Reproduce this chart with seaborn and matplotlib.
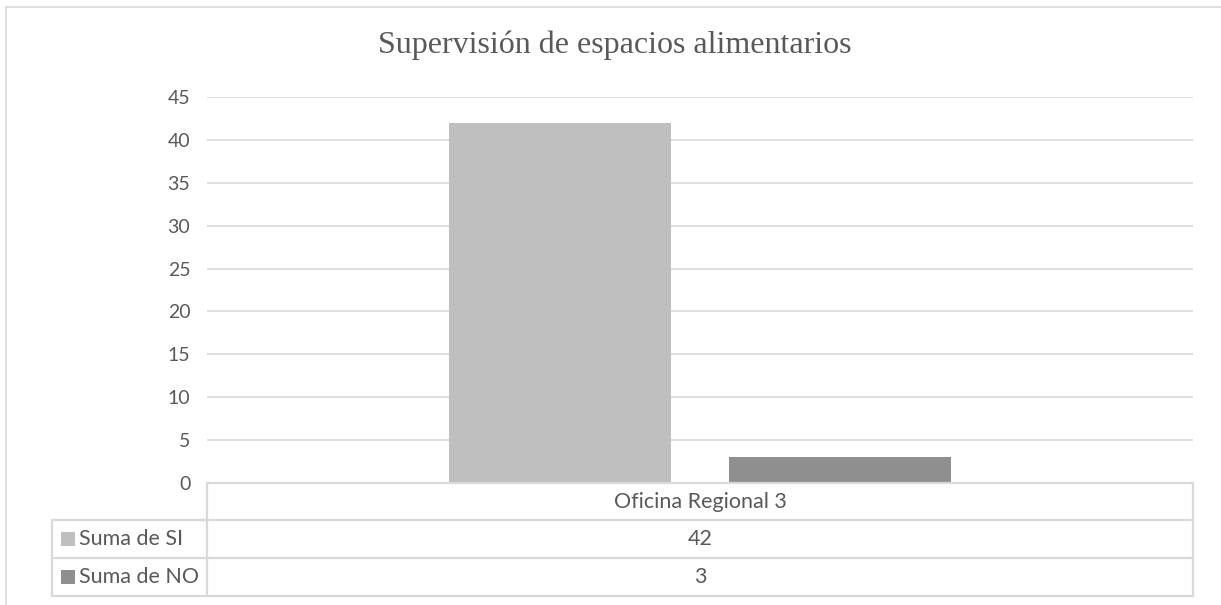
import matplotlib
matplotlib.use("Agg")
import matplotlib.pyplot as plt
import seaborn as sns
import pandas as pd
from matplotlib.lines import Line2D
from matplotlib.patches import Rectangle

# datos del gráfico
categorias = ["Oficina Regional 3"]
series = ["Suma de SI", "Suma de NO"]
valores = [42, 3]
colores = ["#BFBFBF", "#8F8F8F"]
ticks_y = [0, 5, 10, 15, 20, 25, 30, 35, 40, 45]
titulo = "Supervisión de espacios alimentarios"

df = pd.DataFrame({"oficina": categorias * len(series), "serie": series, "valor": valores})

W, H = 1221, 605
gris_texto = "#595959"
gris_linea = "#D9D9D9"

sns.set_style("white")
plt.rcParams["font.family"] = ["Lato", "DejaVu Sans"]

fig = plt.figure(figsize=(W / 100, H / 100), dpi=100)


def fx(px):
    return px / W


def fy(py):
    return 1 - py / H


# área del gráfico
ax = fig.add_axes([fx(207), fy(483), fx(1193) - fx(207), fy(97) - fy(483)])
sns.barplot(data=df, x="oficina", y="valor", hue="serie", palette=colores,
            width=0.568, gap=0.207, linewidth=0, legend=False, ax=ax)
ax.set_xlim(-0.5, 0.5)
ax.set_ylim(0, 45)
ax.set_yticks(ticks_y)
ax.set_yticklabels([str(t) for t in ticks_y], color=gris_texto, fontsize=14)
ax.tick_params(axis="y", length=0, pad=12)
ax.set_xticks([])
ax.set_xlabel("")
ax.set_ylabel("")
for s in ax.spines.values():
    s.set_visible(False)
ax.yaxis.grid(True, color=gris_linea, linewidth=1.2)
ax.set_axisbelow(True)

# título
fig.text(fx(615), fy(45), titulo, ha="center", va="center", fontsize=23,
         family="Liberation Serif", color=gris_texto)

# borde exterior (recortado a la derecha y abajo)
fig.add_artist(Line2D([fx(6), fx(6)], [fy(7), 0], color=gris_linea, lw=1.2))
fig.add_artist(Line2D([fx(6), 1], [fy(7), fy(7)], color=gris_linea, lw=1.2))

# tabla de datos
filas = [483, 520, 558, 596]
lw = 1.6
fig.add_artist(Line2D([fx(207), fx(1193)], [fy(filas[0])] * 2, color=gris_linea, lw=lw))
for yy in filas[1:]:
    fig.add_artist(Line2D([fx(52), fx(1193)], [fy(yy)] * 2, color=gris_linea, lw=lw))
fig.add_artist(Line2D([fx(207)] * 2, [fy(filas[0]), fy(filas[-1])], color=gris_linea, lw=lw))
fig.add_artist(Line2D([fx(1193)] * 2, [fy(filas[0]), fy(filas[-1])], color=gris_linea, lw=lw))
fig.add_artist(Line2D([fx(52)] * 2, [fy(filas[1]), fy(filas[-1])], color=gris_linea, lw=lw))

centro = (207 + 1193) / 2
fig.text(fx(centro), fy((filas[0] + filas[1]) / 2), categorias[0], ha="center",
         va="center", fontsize=15.5, color=gris_texto)
for i, (serie, valor, color) in enumerate(zip(series, valores, colores)):
    ymid = (filas[i + 1] + filas[i + 2]) / 2
    fig.add_artist(Rectangle((fx(61), fy(ymid + 7)), fx(14), fy(0) - fy(14),
                             facecolor=color, edgecolor="none"))
    fig.text(fx(79), fy(ymid), serie, ha="left", va="center", fontsize=15.5, color=gris_texto)
    fig.text(fx(centro), fy(ymid), str(valor), ha="center", va="center",
             fontsize=15.5, color=gris_texto)

fig.savefig("out.png", dpi=100)
